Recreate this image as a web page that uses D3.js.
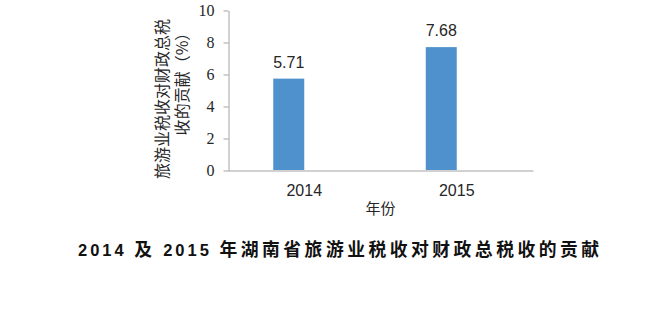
<!DOCTYPE html>
<html>
<head>
<meta charset="utf-8">
<script src="https://cdn.jsdelivr.net/npm/d3@7"></script>
<style>
  body { margin: 0; background: #fff; }
  svg { display: block; }
</style>
</head>
<body>
<svg id="chart"></svg>
<script>
// data
const years = ["2014", "2015"];
const values = [5.71, 7.68];
const yTicks = [0, 2, 4, 6, 8, 10];
const yTitleLines = ["旅游业税收对财政总税", "收的贡献（%）"];
const xTitle = "年份";
// title pieces: latin digits and CJK get slightly different sizes
const titleParts = ["2014 ", "及", " 2015 ", "年湖南省旅游业税收对财政总税收的贡献"];

const W = 672, H = 315;
const plot = { left: 228, right: 533, top: 10, bottom: 170 };
const barWidth = 31;
const axisColor = "#a3a3a3";
const textColor = "#262626";

const svg = d3.select("#chart").attr("width", W).attr("height", H);

const x = d3.scaleBand().domain(years).range([plot.left, plot.right]);
const y = d3.scaleLinear().domain([0, 10]).range([plot.bottom, plot.top]);

// y axis
const yAxis = svg.append("g")
    .attr("transform", `translate(${plot.left + 0.5},0.5)`)
    .call(d3.axisLeft(y).tickValues(yTicks).tickSize(5).tickSizeOuter(0).tickPadding(9));
yAxis.select(".domain").attr("stroke", axisColor);
yAxis.selectAll(".tick line").attr("stroke", axisColor);
yAxis.selectAll(".tick text")
    .attr("fill", textColor)
    .style("font-family", "'Liberation Serif', 'DejaVu Serif', serif")
    .style("font-size", "16px");

// x axis
const xAxis = svg.append("g")
    .attr("transform", `translate(0,${plot.bottom + 0.5})`)
    .call(d3.axisBottom(x).tickSize(0).tickPadding(14));
xAxis.select(".domain").attr("stroke", axisColor);
xAxis.selectAll(".tick text")
    .attr("fill", textColor)
    .style("font-family", "'Liberation Sans', Arial, sans-serif")
    .style("font-size", "16px");

// bars (sit to the left of the category centre)
const rows = years.map((yr, i) => ({ year: yr, value: values[i] }));
svg.selectAll(".bar")
  .data(rows)
  .enter()
  .append("rect")
    .attr("class", "bar")
    .attr("x", d => x(d.year) + x.bandwidth() / 2 - barWidth)
    .attr("y", d => y(d.value))
    .attr("width", barWidth)
    .attr("height", d => y(0) - y(d.value))
    .attr("fill", "#4f91cd");

// value labels
svg.selectAll(".val")
  .data(rows)
  .enter()
  .append("text")
    .attr("class", "val")
    .attr("x", d => x(d.year) + x.bandwidth() / 2 - barWidth / 2)
    .attr("y", d => y(d.value) - 11)
    .attr("text-anchor", "middle")
    .attr("fill", textColor)
    .style("font-family", "'Liberation Sans', Arial, sans-serif")
    .style("font-size", "16px")
    .text(d => d.value.toFixed(2));

// y axis title, two rotated lines
const yTitlePos = [{ cx: 161, cy: 99 }, { cx: 181, cy: 80 }];
svg.selectAll(".ytitle")
  .data(yTitleLines)
  .enter()
  .append("text")
    .attr("class", "ytitle")
    .attr("transform", (d, i) => `translate(${yTitlePos[i].cx},${yTitlePos[i].cy}) rotate(-90)`)
    .attr("text-anchor", "middle")
    .attr("dominant-baseline", "central")
    .attr("fill", textColor)
    .style("font-family", "'Noto Sans CJK SC', sans-serif")
    .style("font-size", "16px")
    .text(d => d);

// x axis title
svg.append("text")
    .attr("x", (plot.left + plot.right) / 2)
    .attr("y", 214)
    .attr("text-anchor", "middle")
    .attr("fill", textColor)
    .style("font-family", "'Noto Sans CJK SC', sans-serif")
    .style("font-size", "15px")
    .text(xTitle);

// chart title
const title = svg.append("text")
    .attr("x", 78)
    .attr("y", 256)
    .attr("fill", "#111")
    .style("font-family", "'Liberation Sans', 'Noto Sans CJK SC', sans-serif")
    .style("font-weight", "bold");
title.selectAll("tspan")
  .data(titleParts)
  .enter()
  .append("tspan")
    .style("font-size", (d, i) => i % 2 === 0 && i < 3 ? "16.5px" : "17.8px")
    .style("letter-spacing", (d, i) => i % 2 === 0 && i < 3 ? "3px" : "3.5px")
    .text(d => d);
</script>
</body>
</html>
